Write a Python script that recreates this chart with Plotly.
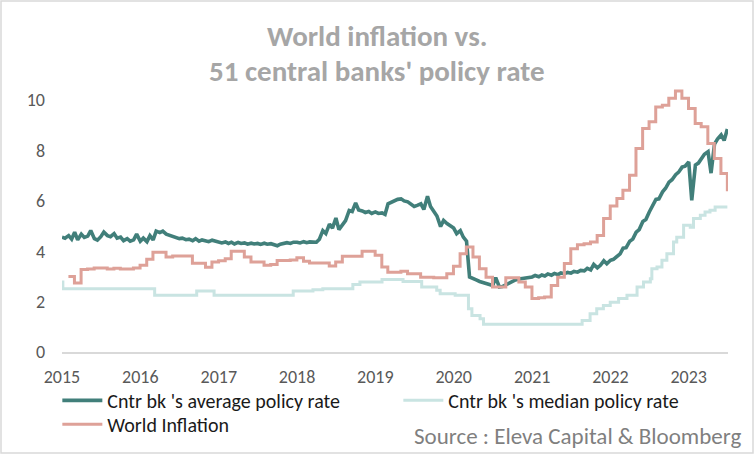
import pandas as pd
import plotly.graph_objects as go

# ---------------- data ----------------
# Central banks' average policy rate, semi-monthly (1st & 15th), Jan 2015 .. Jun 2023
avg_2015 = [4.56, 4.52, 4.62, 4.48, 4.76, 4.45, 4.68, 4.55, 4.60, 4.82, 4.50, 4.44,
            4.58, 4.76, 4.62, 4.58, 4.70, 4.52, 4.56, 4.42, 4.50, 4.40, 4.45, 4.68]
avg_2016 = [4.40, 4.52, 4.38, 4.62, 4.45, 4.80, 4.74, 4.80, 4.68, 4.64, 4.58, 4.55,
            4.50, 4.52, 4.46, 4.48, 4.42, 4.50, 4.40, 4.45, 4.42, 4.38, 4.44, 4.40]
avg_2017 = [4.38, 4.33, 4.37, 4.31, 4.36, 4.29, 4.35, 4.31, 4.33, 4.28, 4.32, 4.29,
            4.31, 4.27, 4.32, 4.28, 4.30, 4.25, 4.22, 4.28, 4.30, 4.34, 4.31, 4.36]
avg_2018 = [4.36, 4.33, 4.38, 4.34, 4.37, 4.38, 4.36, 4.48, 4.82, 4.70, 5.08, 4.92,
            5.32, 4.86, 5.05, 5.22, 5.62, 5.58, 5.92, 5.64, 5.60, 5.54, 5.58, 5.50]
avg_2019 = [5.56, 5.50, 5.52, 5.46, 5.88, 5.94, 6.02, 6.06, 6.08, 6.00, 5.96, 5.88,
            5.78, 5.82, 5.88, 5.66, 6.18, 5.78, 5.56, 5.40, 4.98, 5.22, 5.10, 5.03]
avg_2020 = [4.92, 4.70, 4.82, 4.56, 4.40, 2.98, 2.90, 2.86, 2.80, 2.76, 2.72, 2.70,
            2.64, 2.95, 2.58, 2.60, 2.68, 2.74, 2.82, 2.86, 2.90, 2.92, 2.95, 2.94]
avg_2021 = [2.98, 3.04, 2.99, 3.06, 3.02, 3.10, 3.05, 3.12, 3.07, 3.14, 3.11, 3.16,
            3.13, 3.20, 3.17, 3.24, 3.22, 3.32, 3.26, 3.48, 3.34, 3.44, 3.62, 3.50]
avg_2022 = [3.64, 3.68, 3.82, 3.90, 4.12, 4.14, 4.40, 4.48, 4.76, 4.86, 5.18, 5.26,
            5.56, 5.76, 6.06, 6.08, 6.36, 6.50, 6.74, 6.84, 7.04, 7.14, 7.34, 7.38]
avg_2023 = [7.55, 6.02, 7.42, 7.50, 7.70, 7.85, 7.95, 7.10, 8.25, 8.45, 8.62, 8.40, 8.85]

avg_values = (avg_2015 + avg_2016 + avg_2017 + avg_2018 + avg_2019 +
              avg_2020 + avg_2021 + avg_2022 + avg_2023)
avg_dates = list(pd.date_range("2015-01-01", "2023-06-15", freq="SMS")) + [pd.Timestamp("2023-06-30")]

# Central banks' median policy rate (step changes)
median_dates = ["2015-01-01", "2015-01-05", "2016-03-08", "2016-09-20", "2016-12-10",
                "2017-12-14", "2018-03-16", "2018-05-01", "2018-09-18", "2018-10-21",
                "2019-02-01", "2019-05-10", "2019-08-05", "2019-10-14", "2019-10-30",
                "2020-01-08", "2020-03-10", "2020-03-26", "2020-05-03", "2020-05-19",
                "2021-08-22", "2021-09-28", "2021-10-29", "2021-11-29", "2021-12-31",
                "2022-02-08", "2022-03-19", "2022-05-05", "2022-06-04", "2022-07-06",
                "2022-07-13", "2022-08-06", "2022-08-29", "2022-09-21", "2022-10-22",
                "2022-11-06", "2022-12-08", "2023-01-08", "2023-01-23", "2023-02-24",
                "2023-03-18", "2023-04-10", "2023-05-04", "2023-06-30"]
median_values = [2.78, 2.51, 2.25, 2.42, 2.25,
                 2.42, 2.47, 2.51, 2.68, 2.78,
                 2.88, 2.80, 2.58, 2.45, 2.31,
                 2.25, 1.72, 1.45, 1.32, 1.10,
                 1.25, 1.52, 1.72, 1.85, 1.98,
                 2.12, 2.25, 2.58, 2.78, 2.91,
                 3.31, 3.37, 3.64, 3.90, 4.37,
                 4.56, 5.03, 4.95, 5.30, 5.43,
                 5.56, 5.63, 5.76, 5.76]

# World inflation, monthly (month end), Jan 2015 .. Jun 2023
infl_values = [3.00, 2.74, 3.28, 3.30, 3.33, 3.33, 3.30, 3.32, 3.30, 3.30,
               3.33, 3.44, 3.68, 3.96, 3.96, 3.77, 3.81, 3.81, 3.81, 3.52,
               3.52, 3.36, 3.57, 3.62, 3.70, 4.00, 4.00, 3.77, 3.57, 3.57,
               3.44, 3.47, 3.63, 3.63, 3.65, 3.74, 3.60, 3.53, 3.53, 3.53,
               3.41, 3.57, 3.80, 3.80, 3.80, 4.00, 4.00, 3.84, 3.37, 3.17,
               3.17, 3.21, 3.11, 3.11, 2.97, 2.97, 2.95, 2.95, 3.11, 3.40,
               3.90, 4.17, 3.77, 3.31, 2.97, 2.58, 2.58, 2.95, 2.95, 2.78,
               2.58, 2.12, 2.15, 2.18, 2.64, 2.97, 3.51, 4.10, 4.26, 4.30,
               4.37, 4.63, 5.30, 5.80, 6.09, 6.42, 7.02, 8.08, 8.87, 9.14,
               9.73, 9.80, 10.07, 10.36, 10.07, 9.67, 9.07, 8.94, 8.28, 7.68,
               7.09, 6.38]
infl_dates = pd.date_range("2015-01-31", periods=len(infl_values), freq="ME")

year_ticks = [f"{y}-01-01" for y in range(2015, 2024)]
year_labels = [str(y) for y in range(2015, 2024)]

# ---------------- styles ----------------
C_AVG = "#417F7A"
C_MED = "#C9E4E2"
C_INF = "#DEA198"
FONT = "Carlito, Lato, sans-serif"

fig = go.Figure()
fig.add_trace(go.Scatter(x=avg_dates, y=avg_values, mode="lines",
                         name="Cntr bk 's average policy rate",
                         line=dict(color=C_AVG, width=3.6)))
fig.add_trace(go.Scatter(x=median_dates, y=median_values, mode="lines",
                         name="Cntr bk 's median policy rate",
                         line=dict(color=C_MED, width=3, shape="hv")))
fig.add_trace(go.Scatter(x=infl_dates, y=infl_values, mode="lines",
                         name="World Inflation", legend="legend2",
                         line=dict(color=C_INF, width=3, shape="hv")))

legend_common = dict(orientation="h", xanchor="left", yanchor="top",
                     entrywidth=286, entrywidthmode="pixels", traceorder="normal",
                     font=dict(family=FONT, size=20, color="#1A1A1A"),
                     itemwidth=40, tracegroupgap=0, bgcolor="rgba(0,0,0,0)")

fig.update_layout(
    width=754, height=454,
    margin=dict(l=62, r=26, t=85, b=102, autoexpand=False),
    paper_bgcolor="white", plot_bgcolor="white",
    font=dict(family=FONT, color="#595959", size=16),
    showlegend=True,
    legend=dict(x=-0.007, y=-0.108, **legend_common),
    legend2=dict(x=-0.007, y=-0.198, **legend_common),
    xaxis=dict(type="date", range=["2015-01-01", "2023-07-03"],
               tickvals=year_ticks, ticktext=year_labels,
               showgrid=False, zeroline=False, showline=True,
               linecolor="#D9D9D9", linewidth=1.5, ticks="",
               ticklabelstandoff=8,
               tickfont=dict(family=FONT, size=18, color="#595959")),
    yaxis=dict(range=[0, 10.6], tickvals=[0, 2, 4, 6, 8, 10],
               showgrid=False, zeroline=False, showline=False, ticks="",
               ticklabelstandoff=16,
               tickfont=dict(family=FONT, size=18, color="#595959")),
    annotations=[
        dict(text="<b>World inflation vs.</b>", xref="paper", yref="paper",
             x=(377 - 62) / 666, y=(352 - 36) / 267, xanchor="center", yanchor="middle",
             showarrow=False, font=dict(family=FONT, size=29, color="#A6A6A6")),
        dict(text="<b>51 central banks' policy rate</b>", xref="paper", yref="paper",
             x=(377 - 62) / 666, y=(352 - 71) / 267, xanchor="center", yanchor="middle",
             showarrow=False, font=dict(family=FONT, size=29, color="#A6A6A6")),
        dict(text="Source : Eleva Capital & Bloomberg", xref="paper", yref="paper",
             x=(743 - 62) / 666, y=(352 - 436) / 267, xanchor="right", yanchor="middle",
             showarrow=False, font=dict(family=FONT, size=23, color="#7F7F7F")),
    ],
    shapes=[dict(type="rect", xref="paper", yref="paper",
                 x0=(1 - 62) / 666, x1=(753 - 62) / 666,
                 y0=(352 - 453) / 267, y1=(352 - 1) / 267,
                 line=dict(color="#D9D9D9", width=1.5), fillcolor="rgba(0,0,0,0)",
                 layer="below")],
)

fig.write_html("out.html")
